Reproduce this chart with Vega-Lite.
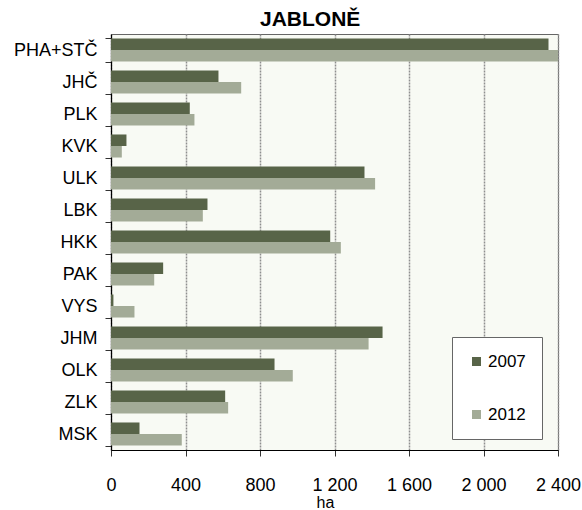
{
  "$schema": "https://vega.github.io/schema/vega-lite/v6.json",
  "width": 447,
  "height": 416,
  "autosize": {"type": "none"},
  "padding": {"left": 111, "top": 34, "right": 24, "bottom": 60},
  "background": "#ffffff",
  "title": {
    "text": "JABLONĚ",
    "font": "Liberation Sans",
    "fontSize": 21,
    "fontWeight": "bold",
    "color": "#000000",
    "anchor": "start",
    "frame": "group",
    "dx": 149,
    "offset": -5
  },
  "data": {
    "values": [
      {"kraj": "PHA+STČ", "rok": "2007", "ha": 2349},
      {"kraj": "PHA+STČ", "rok": "2012", "ha": 2400},
      {"kraj": "JHČ", "rok": "2007", "ha": 577},
      {"kraj": "JHČ", "rok": "2012", "ha": 699},
      {"kraj": "PLK", "rok": "2007", "ha": 423},
      {"kraj": "PLK", "rok": "2012", "ha": 448},
      {"kraj": "KVK", "rok": "2007", "ha": 83},
      {"kraj": "KVK", "rok": "2012", "ha": 58},
      {"kraj": "ULK", "rok": "2007", "ha": 1361},
      {"kraj": "ULK", "rok": "2012", "ha": 1418},
      {"kraj": "LBK", "rok": "2007", "ha": 518},
      {"kraj": "LBK", "rok": "2012", "ha": 493},
      {"kraj": "HKK", "rok": "2007", "ha": 1177},
      {"kraj": "HKK", "rok": "2012", "ha": 1234},
      {"kraj": "PAK", "rok": "2007", "ha": 280},
      {"kraj": "PAK", "rok": "2012", "ha": 232},
      {"kraj": "VYS", "rok": "2007", "ha": 13},
      {"kraj": "VYS", "rok": "2012", "ha": 126},
      {"kraj": "JHM", "rok": "2007", "ha": 1458},
      {"kraj": "JHM", "rok": "2012", "ha": 1383},
      {"kraj": "OLK", "rok": "2007", "ha": 878},
      {"kraj": "OLK", "rok": "2012", "ha": 976},
      {"kraj": "ZLK", "rok": "2007", "ha": 613},
      {"kraj": "ZLK", "rok": "2012", "ha": 629},
      {"kraj": "MSK", "rok": "2007", "ha": 153},
      {"kraj": "MSK", "rok": "2012", "ha": 380}
    ]
  },
  "mark": {"type": "bar", "clip": true},
  "encoding": {
    "y": {
      "field": "kraj",
      "type": "nominal",
      "sort": ["PHA+STČ", "JHČ", "PLK", "KVK", "ULK", "LBK", "HKK", "PAK", "VYS", "JHM", "OLK", "ZLK", "MSK"],
      "scale": {"paddingInner": 0.28, "paddingOuter": 0.14},
      "axis": {
        "title": null,
        "tickBand": "extent",
        "labelFont": "Liberation Sans",
        "labelFontSize": 18,
        "labelColor": "#000000",
        "labelPadding": 8,
        "tickSize": 6,
        "tickColor": "#333333",
        "domainColor": "#000000",
        "domainWidth": 1.2,
        "grid": false
      }
    },
    "yOffset": {
      "field": "rok",
      "type": "nominal",
      "scale": {"domain": ["2007", "2012"], "paddingInner": 0, "paddingOuter": 0}
    },
    "x": {
      "field": "ha",
      "type": "quantitative",
      "scale": {"domain": [0, 2400], "nice": false},
      "axis": {
        "title": "ha",
        "titleFont": "Liberation Sans",
        "titleFontSize": 16,
        "titleFontWeight": "normal",
        "titleColor": "#000000",
        "titleX": 214,
        "titleY": 44,
        "titleBaseline": "top",
        "titleAlign": "center",
        "values": [0, 400, 800, 1200, 1600, 2000, 2400],
        "format": ",d",
        "labelExpr": "replace(datum.label, ',', ' ')",
        "labelFont": "Liberation Sans",
        "labelFontSize": 18,
        "labelColor": "#000000",
        "labelPadding": 20,
        "labelFlush": false,
        "labelOverlap": false,
        "tickSize": 6,
        "tickColor": "#333333",
        "domainColor": "#000000",
        "domainWidth": 1.2,
        "grid": true,
        "gridColor": "#8f8f8f",
        "gridWidth": 1.5,
        "gridDash": [2, 1]
      }
    },
    "color": {
      "field": "rok",
      "type": "nominal",
      "scale": {"domain": ["2007", "2012"], "range": ["#586448", "#a3ab97"]},
      "legend": {
        "title": null,
        "orient": "none",
        "legendX": 341,
        "legendY": 303,
        "padding": 16,
        "fillColor": "#ffffff",
        "strokeColor": "#666666",
        "symbolType": "square",
        "symbolSize": 81,
        "symbolStrokeWidth": 0,
        "labelFont": "Liberation Sans",
        "labelFontSize": 17,
        "labelColor": "#000000",
        "labelOffset": 3,
        "rowPadding": 35
      }
    }
  },
  "config": {
    "view": {"fill": "#f8faf4", "stroke": "#666666", "strokeWidth": 1}
  }
}
